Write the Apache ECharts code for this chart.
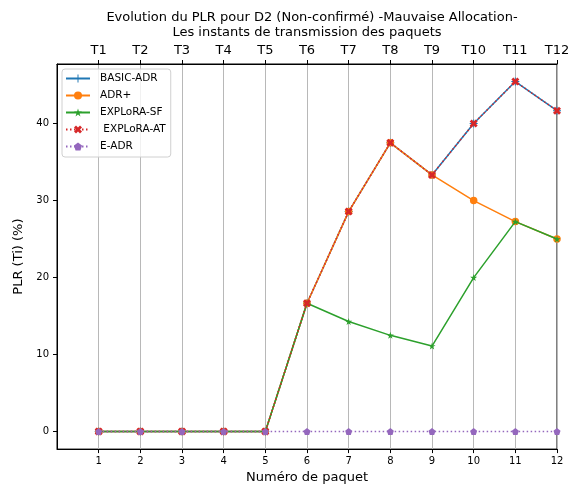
<!DOCTYPE html>
<html>
<head>
<meta charset="utf-8">
<script src="https://cdn.jsdelivr.net/npm/echarts@6/dist/echarts.min.js"></script>
<style>
  html, body { margin: 0; padding: 0; background: #fff; }
  #chart { width: 576px; height: 489px; }
</style>
</head>
<body>
<div id="chart"></div>
<script>
// Packet numbers and their transmission instants
const packets = [1, 2, 3, 4, 5, 6, 7, 8, 9, 10, 11, 12];
const instants = ['T1', 'T2', 'T3', 'T4', 'T5', 'T6', 'T7', 'T8', 'T9', 'T10', 'T11', 'T12'];
const yTicks = [0, 10, 20, 30, 40];

// PLR (%) per packet for each scheme
const basicAdr  = [0, 0, 0, 0, 0, 16.67, 28.57, 37.5, 33.33, 40, 45.45, 41.67];
const adrPlus   = [0, 0, 0, 0, 0, 16.67, 28.57, 37.5, 33.33, 30, 27.27, 25];
const exploraSf = [0, 0, 0, 0, 0, 16.67, 14.29, 12.5, 11.11, 20, 27.27, 25];
const exploraAt = [0, 0, 0, 0, 0, 16.67, 28.57, 37.5, 33.33, 40, 45.45, 41.67];
const eAdr      = [0, 0, 0, 0, 0, 0, 0, 0, 0, 0, 0, 0];

const FONT = 'DejaVu Sans';

// Marker shapes
const PLUS = 'path://M0.44,0 h0.12 v0.44 h0.44 v0.12 h-0.44 v0.44 h-0.12 v-0.44 h-0.44 v-0.12 h0.44 Z';
const XMARK = 'path://M0,1 L1,0 L2,1 L3,0 L4,1 L3,2 L4,3 L3,4 L2,3 L1,4 L0,3 L1,2 Z';
const STAR = 'path://M50,0 L61.2,34.5 L97.6,34.5 L68.2,55.9 L79.4,90.5 L50,69.1 L20.6,90.5 L31.8,55.9 L2.4,34.5 L38.8,34.5 Z';
const PENTA = 'path://M50,0 L97.6,34.5 L79.4,90.5 L20.6,90.5 L2.4,34.5 Z';

function pairs(vals) {
  return packets.map((p, i) => [p, vals[i]]);
}

function makeSeries(name, vals, color, symbol, size, dotted, z) {
  return {
    name: name,
    type: 'line',
    data: pairs(vals),
    symbol: symbol,
    symbolSize: size,
    showSymbol: true,
    z: z,
    animation: false,
    lineStyle: { color: color, width: 1.5, type: dotted ? [1.5, 2.5] : 'solid' },
    itemStyle: { color: color, borderColor: color, borderWidth: 0 },
    emphasis: { disabled: true }
  };
}

const chart = echarts.init(document.getElementById('chart'), null, { renderer: 'canvas' });

chart.setOption({
  backgroundColor: '#fff',
  animation: false,
  title: {
    text: 'Evolution du PLR pour D2 (Non-confirmé) -Mauvaise Allocation-',
    left: 307,
    textAlign: 'center',
    top: 6,
    textStyle: { fontFamily: FONT, fontSize: 13, fontWeight: 'normal', color: '#000' }
  },
  legend: {
    orient: 'vertical',
    left: 62,
    top: 69,
    itemWidth: 24,
    itemHeight: 10,
    itemGap: 6,
    padding: [4, 5, 5, 3],
    borderColor: '#d0d0d0',
    borderWidth: 1,
    borderRadius: 3,
    backgroundColor: 'rgba(255,255,255,0.8)',
    textStyle: { fontFamily: FONT, fontSize: 10.5, color: '#000', padding: [0, 0, 0, 5] },
    data: ['BASIC-ADR', 'ADR+', 'EXPLoRA-SF', ' EXPLoRA-AT', 'E-ADR']
  },
  grid: {
    left: 57, right: 19, top: 64, bottom: 38,
    show: true, borderColor: '#000', borderWidth: 1, backgroundColor: 'transparent'
  },
  xAxis: [
    {
      type: 'value',
      position: 'bottom',
      min: 0, max: 12,
      name: 'Numéro de paquet',
      nameLocation: 'middle',
      nameGap: 21,
      nameTextStyle: { fontFamily: FONT, fontSize: 13, color: '#000' },
      axisLine: { show: true, onZero: false, lineStyle: { color: '#000', width: 1 } },
      axisTick: { show: true, length: 4, customValues: packets, lineStyle: { color: '#000' } },
      axisLabel: { customValues: packets, margin: 7, fontFamily: FONT, fontSize: 10, color: '#000' },
      splitLine: { show: true, lineStyle: { color: '#b8b8b8', width: 1 } },
      interval: 1
    },
    {
      type: 'value',
      position: 'top',
      min: 0, max: 12,
      name: 'Les instants de transmission des paquets',
      nameLocation: 'middle',
      nameGap: 21,
      nameTextStyle: { fontFamily: FONT, fontSize: 13, color: '#000' },
      axisLine: { show: true, onZero: false, lineStyle: { color: '#000', width: 1 } },
      axisTick: { show: true, length: 4, customValues: packets, lineStyle: { color: '#000' } },
      axisLabel: {
        customValues: packets, margin: 7, fontFamily: FONT, fontSize: 13, color: '#000',
        formatter: v => instants[Math.round(v) - 1] || ''
      },
      splitLine: { show: false },
      interval: 1
    }
  ],
  yAxis: {
    type: 'value',
    min: -2.27, max: 47.73,
    name: 'PLR (Ti) (%)',
    nameLocation: 'middle',
    nameGap: 28,
    nameTextStyle: { fontFamily: FONT, fontSize: 13, color: '#000' },
    axisLine: { show: true, onZero: false, lineStyle: { color: '#000', width: 1 } },
    axisTick: { show: true, length: 4, customValues: yTicks, lineStyle: { color: '#000' } },
    axisLabel: { customValues: yTicks, margin: 8, fontFamily: FONT, fontSize: 10, color: '#000' },
    splitLine: { show: false }
  },
  series: [
    makeSeries('BASIC-ADR', basicAdr, '#1f77b4', PLUS, 8, false, 2),
    makeSeries('ADR+', adrPlus, '#ff7f0e', 'circle', 7.5, false, 3),
    makeSeries('EXPLoRA-SF', exploraSf, '#2ca02c', STAR, 7, false, 4),
    makeSeries(' EXPLoRA-AT', exploraAt, '#d62728', XMARK, 8, true, 5),
    makeSeries('E-ADR', eAdr, '#9467bd', PENTA, 7, true, 6)
  ]
});
</script>
</body>
</html>
